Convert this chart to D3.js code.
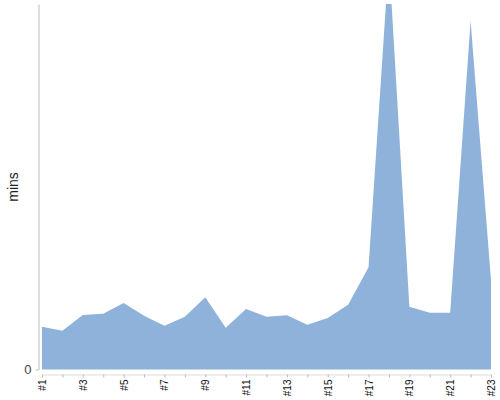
<!DOCTYPE html>
<html>
<head>
<meta charset="utf-8">
<script src="https://cdn.jsdelivr.net/npm/d3@7"></script>
<style>
  body { margin: 0; background: #fff; }
  text { font-family: "Liberation Sans", Arial, sans-serif; }
</style>
</head>
<body>
<div id="chart"></div>
<script>
const categories = ['#1', '#2', '#3', '#4', '#5', '#6', '#7', '#8', '#9', '#10', '#11', '#12',
    '#13', '#14', '#15', '#16', '#17', '#18', '#19', '#20', '#21', '#22', '#23'];
const mins = [3.51, 3.19, 4.47, 4.58, 5.46, 4.42, 3.6, 4.33, 5.93, 3.43, 4.97, 4.33,
    4.45, 3.68, 4.23, 5.32, 8.39, 33.7, 5.16, 4.66, 4.66, 28.6, 7.35];
const yTicks = [0];

const width = 500;
const height = 400;
const margin = { top: 4, right: 9, bottom: 30, left: 42 };

const svg = d3.select('#chart').append('svg')
    .attr('width', width)
    .attr('height', height);

const xScale = d3.scalePoint()
    .domain(categories)
    .range([margin.left, width - margin.right]);

const yScale = d3.scaleLinear()
    .domain([0, 30])
    .range([height - margin.bottom - 0.5, margin.top]);

svg.append('clipPath')
    .attr('id', 'clip')
    .append('rect')
    .attr('x', margin.left)
    .attr('y', margin.top)
    .attr('width', width - margin.left - margin.right)
    .attr('height', height - margin.top - margin.bottom);

const area = d3.area()
    .x((d, i) => xScale(categories[i]))
    .y0(yScale(0))
    .y1(d => yScale(d));

svg.append('path')
    .datum(mins)
    .attr('clip-path', 'url(#clip)')
    .attr('fill', '#8fb2da')
    .attr('d', area);

// y axis
const yAxis = svg.append('g')
    .attr('transform', 'translate(38.5, 0)')
    .call(d3.axisLeft(yScale).tickValues(yTicks).tickSize(3).tickSizeOuter(0).tickPadding(4));
yAxis.select('.domain').attr('stroke', '#bbb');
yAxis.selectAll('.tick line').attr('stroke', '#bbb');
yAxis.selectAll('.tick text')
    .attr('fill', '#444')
    .style('font-size', '13px');

// x axis
const xAxis = svg.append('g')
    .attr('transform', `translate(0, ${height - margin.bottom + 4.5})`)
    .call(d3.axisBottom(xScale)
        .tickSize(3)
        .tickSizeOuter(0)
        .tickFormat((d, i) => i % 2 === 0 ? d : ''));
xAxis.select('.domain').attr('stroke', '#ddd');
xAxis.selectAll('.tick line').attr('stroke', '#bbb');
xAxis.selectAll('.tick text')
    .attr('fill', '#111')
    .style('font-size', '10px')
    .attr('text-anchor', 'end')
    .attr('transform', 'rotate(-90)')
    .attr('x', -5)
    .attr('y', 0)
    .attr('dy', '0.35em');

svg.append('text')
    .attr('transform', 'rotate(-90)')
    .attr('x', -187)
    .attr('y', 18)
    .attr('text-anchor', 'middle')
    .attr('fill', '#222')
    .style('font-size', '14px')
    .text('mins');
</script>
</body>
</html>
